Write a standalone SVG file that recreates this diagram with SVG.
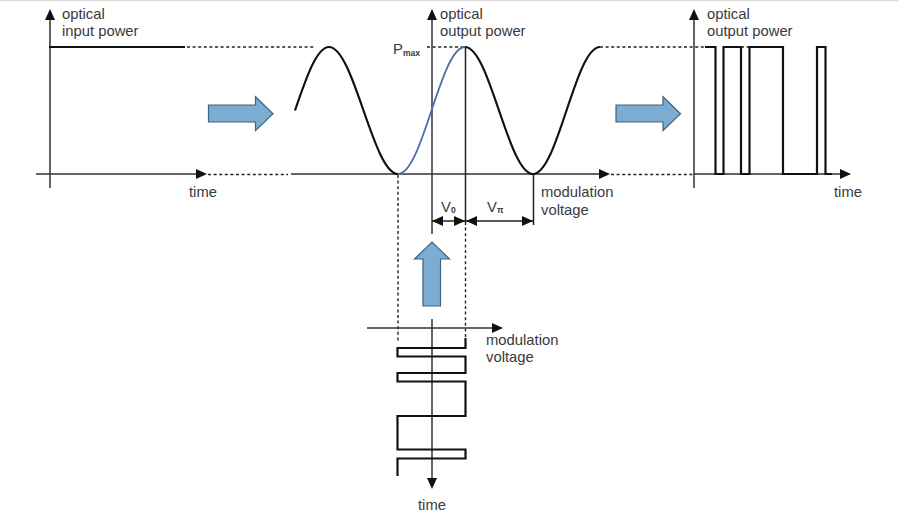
<svg xmlns="http://www.w3.org/2000/svg" width="899" height="521" viewBox="0 0 899 521">
<style>
text{font-family:"Liberation Sans",Arial,sans-serif;font-size:14.800px;fill:#3a3a3a}
.sub{font-size:8.500px;font-weight:bold}
.ax{fill:none;stroke:#333;stroke-width:1.5}
.wave{fill:none;stroke:#111;stroke-width:2.200}
.thin{fill:none;stroke:#222;stroke-width:1.500}
.dot{fill:none;stroke:#222;stroke-width:1.400;stroke-dasharray:3 2.600}
.blk{fill:#111}
.blue{fill:#7badd3;stroke:#44607a;stroke-width:1.200}
</style>
<defs>
<path id="ah" class="blk" d="M0 0L-11 -5V5Z"/>
</defs>
<rect width="899" height="521" fill="#fff"/>
<rect width="899" height="1.200" fill="#ddd"/>
<g id="connectors">
<path class="dot" d="M187 47H314M427 47H465M600 47H706M741 47H749"/>
<path class="dot" d="M208 174.500H288M611 174.500H693"/>
<path class="dot" d="M398 175V341M465.500 222V339"/>
</g>
<g id="input-plot">
<path class="ax" d="M50 18V188M36 174H198"/>
<use href="#ah" transform="translate(50 9) rotate(-90)"/>
<use href="#ah" transform="translate(207 174)"/>
<path class="wave" d="M49 47H185"/>
<text x="62" y="19">optical</text>
<text x="62" y="36">input power</text>
<text x="189" y="197">time</text>
</g>
<g id="arrow-input"><path class="blue" d="M208.500 105H255.500V96.700L273 113.700L255.500 130.700V122H208.500Z"/></g>
<g id="transfer-plot">
<path class="ax" d="M432 18V234M291 174H601"/>
<use href="#ah" transform="translate(432 9) rotate(-90)"/>
<use href="#ah" transform="translate(610 174)"/>
<path class="thin" d="M465.500 47V222M533.500 174V225M432 221H533.500"/>
<use href="#ah" transform="translate(432 221) rotate(180)"/>
<use href="#ah" transform="translate(465 221)"/>
<use href="#ah" transform="translate(466 221) rotate(180)"/>
<use href="#ah" transform="translate(533 221)"/>
<path class="wave" d="M295 110.500C305.800 78.750 316.600 47 329 47C353.800 47 373.200 174 398 174"/>
<path d="M398 174C422.800 174 440.200 47 465 47" fill="none" stroke="#4a6ea8" stroke-width="1.800"/>
<path class="wave" d="M465 47C489.800 47 508.200 174 533 174C557.800 174 575.200 47 600 47"/>
<text x="440" y="19">optical</text>
<text x="440" y="36">output power</text>
<text x="393" y="54">P<tspan class="sub" dy="2">max</tspan></text>
<text x="441" y="212">V<tspan class="sub" dy="1">0</tspan></text>
<text x="487" y="212">V<tspan class="sub" dy="1">π</tspan></text>
<text x="541" y="197">modulation</text>
<text x="541" y="215">voltage</text>
</g>
<g id="arrow-output"><path class="blue" d="M616 105H663V96.700L680.500 113.700L663 130.700V122H616Z"/></g>
<g id="output-plot">
<path class="ax" d="M694 18V188M694 174H842"/>
<use href="#ah" transform="translate(694 9) rotate(-90)"/>
<use href="#ah" transform="translate(851 174)"/>
<path class="wave" d="M705 47H715.500V174H723.500V47H741V174H749.500V47H783V174H817V47H825.500V174H832"/>
<text x="707" y="19">optical</text>
<text x="707" y="36">output power</text>
<text x="834" y="197">time</text>
</g>
<g id="arrow-modulation"><path class="blue" d="M423 306V259H414.500L432 242L449.500 259H440.500V306Z"/></g>
<g id="modulation-plot">
<path class="ax" d="M367 328H494M432 319V480"/>
<use href="#ah" transform="translate(503 328)"/>
<use href="#ah" transform="translate(432 489) rotate(90)"/>
<path class="wave" d="M465.500 338V348H397.500V356.500H465.500V373H397.500V381.500H465.500V416H397.500V449.500H465.500V458.500H397.500V476"/>
<text x="486" y="345">modulation</text>
<text x="486" y="362">voltage</text>
<text x="418" y="510">time</text>
</g>
</svg>
